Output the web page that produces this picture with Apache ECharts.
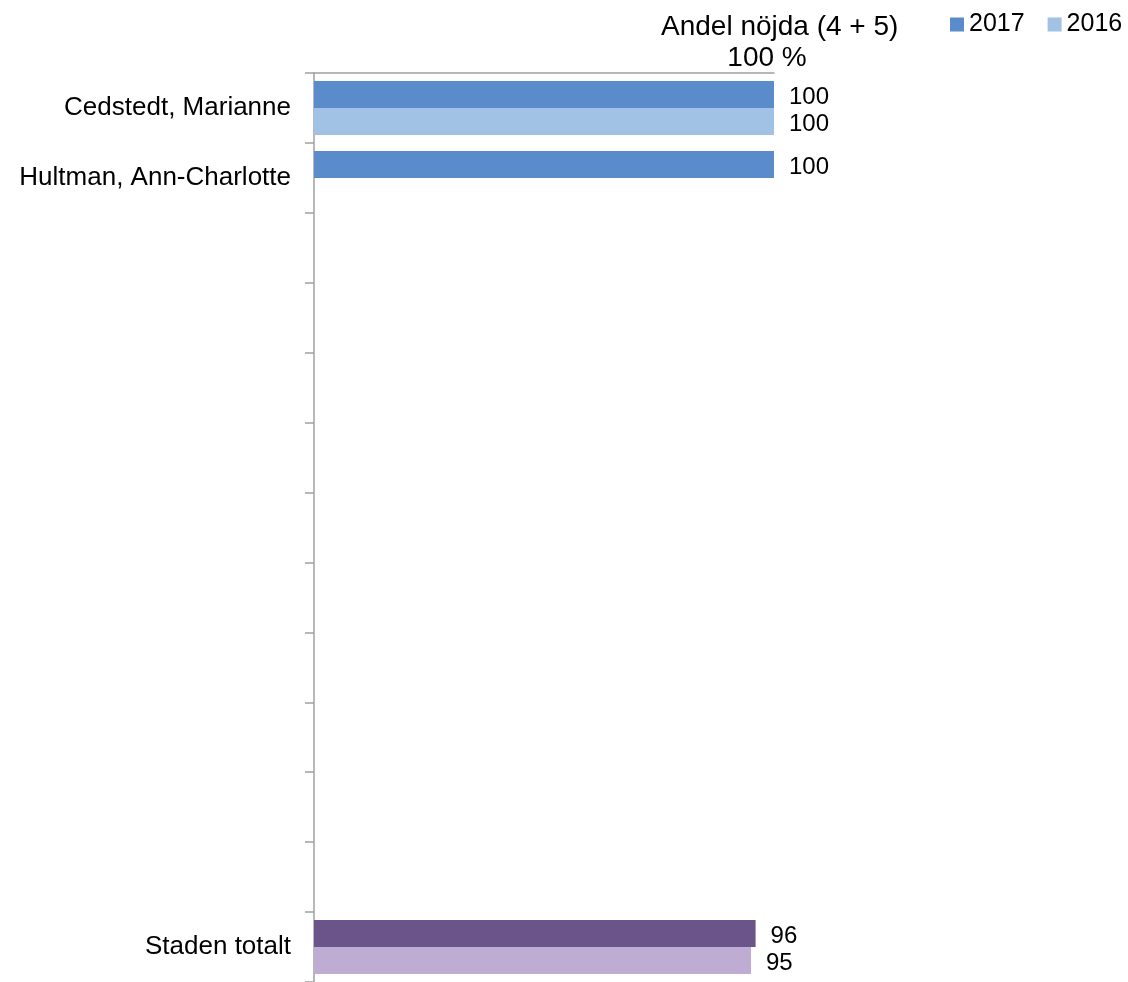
<!DOCTYPE html>
<html>
<head>
<meta charset="utf-8">
<script src="https://cdn.jsdelivr.net/npm/echarts@6/dist/echarts.min.js"></script>
<style>
html,body{margin:0;padding:0;background:#fff;}
#chart{width:1128px;height:982px;}
</style>
</head>
<body>
<div id="chart"></div>
<script>
const categories = ['Cedstedt, Marianne','Hultman, Ann-Charlotte',' ','  ','   ','    ','     ','      ','       ','        ','         ','          ','Staden totalt'];
const values2017 = [100, 100, null, null, null, null, null, null, null, null, null, null, 96];
const values2016 = [100, null, null, null, null, null, null, null, null, null, null, null, 95];
const seriesNames = ['2017', '2016'];
const axisTitle = 'Andel nöjda (4 + 5)';

const FONT = '"Liberation Sans", Arial, sans-serif';
const chart = echarts.init(document.getElementById('chart'));
const lastIdx = categories.length - 1;
const colors = {
  '2017': {main: '#5A8BCA', total: '#6A5489'},
  '2016': {main: '#A1C1E5', total: '#BFACD3'}
};
function buildData(values, name) {
  return values.map((v, i) => i === lastIdx ? {value: v, itemStyle: {color: colors[name].total}} : v);
}
const labelStyle = {show: true, position: 'right', distance: 15, offset: [0, 3], fontFamily: FONT, fontSize: 24, color: '#000'};

chart.setOption({
  animation: false,
  backgroundColor: '#ffffff',
  textStyle: {fontFamily: FONT},
  title: {
    text: axisTitle,
    left: 661, top: 13, padding: 0,
    textStyle: {fontFamily: FONT, fontSize: 28, fontWeight: 'normal', color: '#000'}
  },
  legend: {
    data: seriesNames,
    left: 950, top: 12, padding: 0,
    icon: 'rect', itemWidth: 14, itemHeight: 14, itemGap: 23,
    textStyle: {fontFamily: FONT, fontSize: 25, color: '#000'}
  },
  grid: {left: 314, top: 73, width: 460, height: 911, containLabel: false},
  xAxis: {
    type: 'value', position: 'top', min: 0, max: 100, interval: 100,
    axisLine: {show: true, lineStyle: {color: '#a0a0a0', width: 1.5}},
    axisTick: {show: false},
    splitLine: {show: false},
    axisLabel: {
      fontFamily: FONT, fontSize: 28, color: '#000', margin: 1,
      padding: [0, 14, 0, 0],
      formatter: v => v === 100 ? '100 %' : ''
    }
  },
  yAxis: {
    type: 'category', inverse: true, data: categories,
    axisLine: {show: true, lineStyle: {color: '#a0a0a0', width: 1.5}},
    axisTick: {show: true, length: 9, lineStyle: {color: '#a0a0a0', width: 1.5}},
    axisLabel: {fontFamily: FONT, fontSize: 26, color: '#000', margin: 23, padding: [5, 0, 0, 0]}
  },
  series: [
    {
      name: seriesNames[0], type: 'bar', data: buildData(values2017, '2017'),
      barCategoryGap: '23%', barGap: '0%',
      itemStyle: {color: colors['2017'].main},
      label: labelStyle
    },
    {
      name: seriesNames[1], type: 'bar', data: buildData(values2016, '2016'),
      barCategoryGap: '23%', barGap: '0%',
      itemStyle: {color: colors['2016'].main},
      label: labelStyle
    }
  ]
});
</script>
</body>
</html>
